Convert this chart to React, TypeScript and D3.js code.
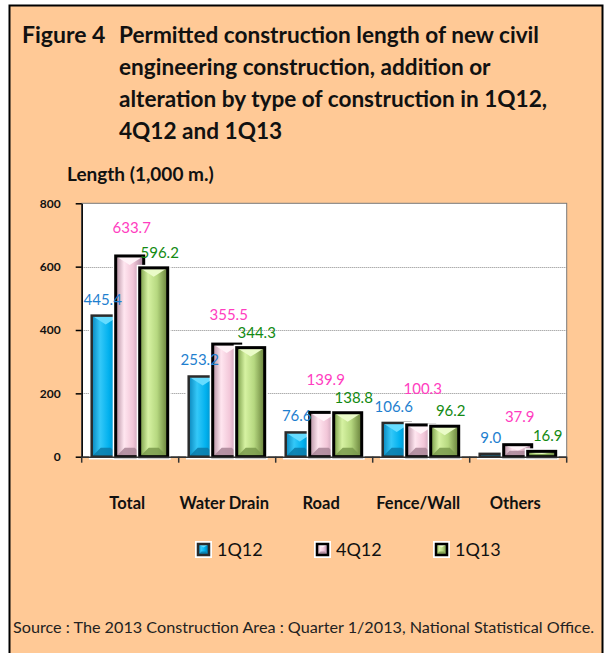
import { useEffect, useRef } from "react"
import * as d3 from "d3"

const categories = ["Total", "Water Drain", "Road", "Fence/Wall", "Others"]
const seriesNames = ["1Q12", "4Q12", "1Q13"]
const values1Q12 = [445.4, 253.2, 76.6, 106.6, 9.0]
const values4Q12 = [633.7, 355.5, 139.9, 100.3, 37.9]
const values1Q13 = [596.2, 344.3, 138.8, 96.2, 16.9]
const yTicks = [0, 200, 400, 600, 800]

const titleLines = [
  "Permitted construction length of new civil",
  "engineering construction, addition or",
  "alteration by type of construction in 1Q12,",
  "4Q12 and 1Q13",
]

const FONT = "Lato, 'Open Sans', sans-serif"

const palettes = [
  {
    stops: ["#0a86bc", "#34c8f8", "#00b0ee", "#05709e"],
    top: "#66dcff",
    bottom: "#0b7aa8",
    border: "#2b2b2b",
    label: "#1f7fcf",
  },
  {
    stops: ["#b48ea0", "#ffe6f0", "#f2c6d8", "#a4829a"],
    top: "#fff4f8",
    bottom: "#a98596",
    border: "#000000",
    label: "#ff3dbf",
  },
  {
    stops: ["#769a44", "#d6f2a2", "#b6d880", "#667f38"],
    top: "#eafbc8",
    bottom: "#7a9a4c",
    border: "#000000",
    label: "#138a13",
  },
]

// label nudges per series (the source labels were placed by hand)
const labelDx = [-3, 2, 6]
const labelDy = [-11, -23, -10]

export default function App() {
  const svgRef = useRef<SVGSVGElement>(null)

  useEffect(() => {
    if (!svgRef.current) return
    const svg = d3.select(svgRef.current)
    svg.selectAll("*").remove()

    const W = 605
    const H = 653
    svg.attr("width", W).attr("height", H)

    const defs = svg.append("defs")
    palettes.forEach((p, i) => {
      const grad = defs
        .append("linearGradient")
        .attr("id", `grad${i}`)
        .attr("x1", "0%")
        .attr("x2", "100%")
        .attr("y1", "0%")
        .attr("y2", "0%")
      ;[0, 0.3, 0.62, 1].forEach((o, k) => {
        grad.append("stop").attr("offset", o).attr("stop-color", p.stops[k])
      })
    })

    // outer panel
    svg
      .append("rect")
      .attr("x", 9.5)
      .attr("y", 5.5)
      .attr("width", 593)
      .attr("height", 670)
      .attr("fill", "#ffc996")
      .attr("stroke", "#000")
      .attr("stroke-width", 2)

    // title
    svg
      .append("text")
      .attr("x", 22)
      .attr("y", 43)
      .style("font-family", FONT)
      .style("font-weight", 700)
      .style("font-size", "23px")
      .attr("fill", "#111")
      .text("Figure 4")

    svg
      .selectAll(".title-line")
      .data(titleLines)
      .enter()
      .append("text")
      .attr("class", "title-line")
      .attr("x", 119)
      .attr("y", (d, i) => 43 + i * 32)
      .style("font-family", FONT)
      .style("font-weight", 700)
      .style("font-size", "22.6px")
      .attr("fill", "#111")
      .text((d) => d)

    svg
      .append("text")
      .attr("x", 67)
      .attr("y", 181)
      .style("font-family", FONT)
      .style("font-weight", 700)
      .style("font-size", "19px")
      .attr("fill", "#111")
      .text("Length (1,000 m.)")

    const left = 81.7
    const right = 566.7
    const top = 203.3
    const bottom = 456.7

    const x = d3.scaleBand<string>().domain(categories).range([left, right]).padding(0)
    const y = d3.scaleLinear().domain([0, 800]).range([bottom, top])
    const barOffset = d3.scaleLinear().domain([0, 2]).range([10, 58])
    const barW = 28

    // plot area
    svg
      .append("rect")
      .attr("x", left)
      .attr("y", top)
      .attr("width", right - left)
      .attr("height", bottom - top)
      .attr("fill", "#fff")
      .attr("stroke", "#7a7a7a")
      .attr("stroke-width", 1)

    svg
      .selectAll(".grid-line")
      .data(yTicks.filter((t) => t > 0 && t < 800))
      .enter()
      .append("line")
      .attr("class", "grid-line")
      .attr("x1", left)
      .attr("x2", right)
      .attr("y1", (d) => Math.round(y(d)) + 0.5)
      .attr("y2", (d) => Math.round(y(d)) + 0.5)
      .attr("stroke", "#8a8a8a")
      .attr("stroke-width", 1)
      .attr("stroke-dasharray", "1,1")

    // y axis
    const yAxis = svg
      .append("g")
      .attr("transform", `translate(${left},0)`)
      .call(d3.axisLeft(y).tickValues(yTicks).tickSize(6).tickSizeOuter(0).tickPadding(15))
    yAxis.select(".domain").attr("stroke", "#000").attr("stroke-width", 1.5)
    yAxis.selectAll(".tick line").attr("stroke", "#000").attr("stroke-width", 1.5)
    yAxis
      .selectAll("text")
      .style("font-family", FONT)
      .style("font-weight", 700)
      .style("font-size", "12px")
      .attr("fill", "#111")

    const series = [values1Q12, values4Q12, values1Q13]

    const drawBar = (
      g: d3.Selection<SVGGElement, unknown, null, undefined>,
      bx: number,
      by: number,
      w: number,
      h: number,
      si: number,
      strokeW: number,
    ) => {
      const p = palettes[si]
      g.append("rect")
        .attr("x", bx)
        .attr("y", by)
        .attr("width", w)
        .attr("height", h)
        .attr("fill", "none")
        .attr("stroke", "#fff")
        .attr("stroke-width", strokeW + 3)
      g.append("rect")
        .attr("x", bx)
        .attr("y", by)
        .attr("width", w)
        .attr("height", h)
        .attr("fill", `url(#grad${si})`)
      const b = Math.min(w * 0.32, h / 2)
      g.append("path")
        .attr("d", `M${bx},${by}L${bx + w},${by}L${bx + w / 2},${by + b}Z`)
        .attr("fill", p.top)
      g.append("path")
        .attr(
          "d",
          `M${bx},${by + h}L${bx + w},${by + h}L${bx + w - b},${by + h - b}L${bx + b},${by + h - b}Z`,
        )
        .attr("fill", p.bottom)
        .attr("opacity", 0.85)
      g.append("rect")
        .attr("x", bx)
        .attr("y", by)
        .attr("width", w)
        .attr("height", h)
        .attr("fill", "none")
        .attr("stroke", p.border)
        .attr("stroke-width", strokeW)
    }

    const barsG = svg.append("g")
    series.forEach((vals, si) => {
      vals.forEach((v, ci) => {
        const bx = (x(categories[ci]) ?? 0) + barOffset(si)
        const g = barsG.append("g")
        drawBar(g, bx, y(v), barW, bottom - y(v), si, si === 0 ? 2.5 : 3)
      })
    })

    // x axis
    svg
      .append("line")
      .attr("x1", left)
      .attr("x2", right)
      .attr("y1", bottom + 0.5)
      .attr("y2", bottom + 0.5)
      .attr("stroke", "#333")
      .attr("stroke-width", 1.5)

    const boundaries = categories.map((c) => x(c) ?? 0).concat([right])
    svg
      .selectAll(".x-tick")
      .data(boundaries)
      .enter()
      .append("line")
      .attr("class", "x-tick")
      .attr("x1", (d) => d)
      .attr("x2", (d) => d)
      .attr("y1", bottom)
      .attr("y2", bottom + 6)
      .attr("stroke", "#333")
      .attr("stroke-width", 1.5)

    // value labels; the middle series is lifted clear of its neighbours
    const labelY = (si: number, ci: number) => {
      const own = y(series[si][ci]) + labelDy[si]
      if (si !== 1) return own
      const lowest = Math.min(y(series[0][ci]) + labelDy[0], y(series[2][ci]) + labelDy[2])
      return Math.min(own, lowest - 18)
    }
    series.forEach((vals, si) => {
      svg
        .selectAll(`.vlabel-${si}`)
        .data(vals)
        .enter()
        .append("text")
        .attr("class", `vlabel-${si}`)
        .attr("x", (d, ci) => (x(categories[ci]) ?? 0) + barOffset(si) + barW / 2 + labelDx[si])
        .attr("y", (d, ci) => labelY(si, ci))
        .attr("text-anchor", "middle")
        .style("font-family", FONT)
        .style("font-size", "15px")
        .attr("fill", palettes[si].label)
        .text((d) => d.toFixed(1))
    })

    // category labels
    svg
      .selectAll(".cat-label")
      .data(categories)
      .enter()
      .append("text")
      .attr("class", "cat-label")
      .attr("x", (d) => (x(d) ?? 0) + x.bandwidth() / 2 - 3)
      .attr("y", 509)
      .attr("text-anchor", "middle")
      .style("font-family", FONT)
      .style("font-weight", 700)
      .style("font-size", "16.5px")
      .attr("fill", "#111")
      .text((d) => d)

    // legend
    const legendX = d3.scaleLinear().domain([0, 2]).range([196, 434])
    seriesNames.forEach((name, si) => {
      const lg = svg.append("g")
      const lx = legendX(si)
      lg.append("rect")
        .attr("x", lx - 1)
        .attr("y", 541)
        .attr("width", 17)
        .attr("height", 17)
        .attr("fill", "#fff")
      drawBar(lg as any, lx + 2, 544, 11, 11, si, 2.5)
      lg.append("text")
        .attr("x", lx + 21)
        .attr("y", 556)
        .style("font-family", FONT)
        .style("font-size", "18px")
        .attr("fill", "#111")
        .text(name)
    })

    // source
    svg
      .append("text")
      .attr("x", 13)
      .attr("y", 633)
      .style("font-family", FONT)
      .style("font-size", "16.2px")
      .attr("fill", "#222")
      .text("Source : The 2013 Construction Area : Quarter 1/2013, National Statistical Office.")
  }, [])

  return (
    <div style={{ position: "absolute", left: 0, top: 0 }}>
      <svg ref={svgRef} style={{ display: "block" }}></svg>
    </div>
  )
}
